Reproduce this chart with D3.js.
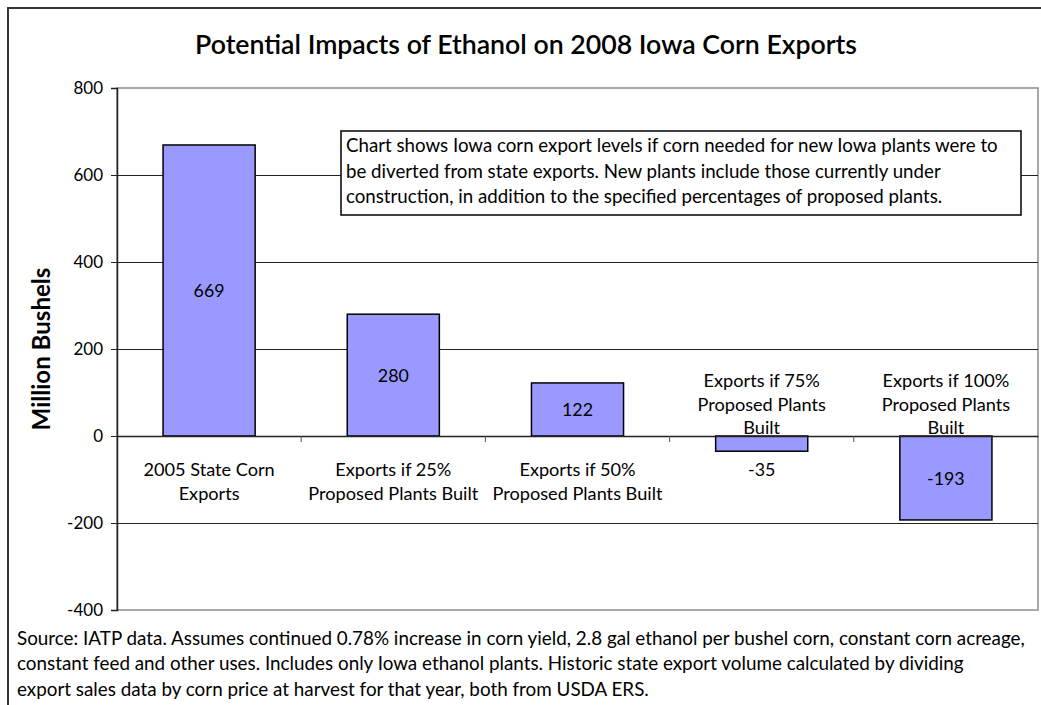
<!DOCTYPE html>
<html>
<head>
<meta charset="utf-8">
<script src="https://cdn.jsdelivr.net/npm/d3@7"></script>
<style>
  html, body { margin: 0; padding: 0; background: #fff; }
  svg { display: block; }
  text { font-family: Lato, "Noto Sans", sans-serif; fill: #000; }
</style>
</head>
<body>
<svg id="chart" width="1041" height="705"></svg>
<script>
// ---- data ----
const categories = [
  "2005 State Corn Exports",
  "Exports if 25% Proposed Plants Built",
  "Exports if 50% Proposed Plants Built",
  "Exports if 75% Proposed Plants Built",
  "Exports if 100% Proposed Plants Built"
];
const categoryLines = [
  ["2005 State Corn", "Exports"],
  ["Exports if 25%", "Proposed Plants Built"],
  ["Exports if 50%", "Proposed Plants Built"],
  ["Exports if 75%", "Proposed Plants", "Built"],
  ["Exports if 100%", "Proposed Plants", "Built"]
];
const values = [669, 280, 122, -35, -193];
const yTicks = [-400, -200, 0, 200, 400, 600, 800];
const titleText = "Potential Impacts of Ethanol on 2008 Iowa Corn Exports";
const yAxisTitle = "Million Bushels";
const noteLines = [
  "Chart shows Iowa corn export levels if corn needed for new Iowa plants were to",
  "be diverted from state exports. New plants include those currently under",
  "construction, in addition to the specified percentages of proposed plants."
];
const sourceLines = [
  "Source: IATP data. Assumes continued 0.78% increase in corn yield, 2.8 gal ethanol per bushel corn, constant corn acreage,",
  "constant feed and other uses. Includes only Iowa ethanol plants. Historic state export volume calculated by dividing",
  "export sales data by corn price at harvest for that year, both from USDA ERS."
];

// ---- layout ----
const svg = d3.select("#chart");
const plot = { left: 117, right: 1038, top: 88, bottom: 610 };

function fitSize(sel, baseSize, target) {
  sel.attr("font-size", baseSize);
  const w = sel.node().getComputedTextLength();
  const s = baseSize * target / w;
  sel.attr("font-size", s);
  return s;
}
function measureSize(str, baseSize, target, weight) {
  const tmp = svg.append("text").attr("font-size", baseSize)
    .attr("font-weight", weight || "normal").text(str);
  const w = tmp.node().getComputedTextLength();
  tmp.remove();
  return baseSize * target / w;
}

// outer frame
svg.append("rect")
  .attr("x", 8).attr("y", 8).attr("width", 1060).attr("height", 720)
  .attr("fill", "none").attr("stroke", "#333").attr("stroke-width", 2);

const x = d3.scaleBand().domain(categories)
  .range([plot.left, plot.right]).paddingInner(0.5).paddingOuter(0.25);
const y = d3.scaleLinear().domain([-400, 800]).range([plot.bottom, plot.top]);

// plot area border (gray)
svg.append("rect")
  .attr("x", plot.left).attr("y", plot.top)
  .attr("width", plot.right - plot.left).attr("height", plot.bottom - plot.top)
  .attr("fill", "none").attr("stroke", "#8c8c8c").attr("stroke-width", 1.5);

// gridlines
svg.append("g").selectAll("line")
  .data(yTicks.filter(t => t !== 800 && t !== -400))
  .join("line")
  .attr("x1", plot.left).attr("x2", plot.right)
  .attr("y1", d => Math.round(y(d)) + 0.5).attr("y2", d => Math.round(y(d)) + 0.5)
  .attr("stroke", "#222").attr("stroke-width", 1);

// y axis
const yAxis = d3.axisLeft(y).tickValues(yTicks).tickSize(6).tickPadding(8).tickFormat(d => String(d));
const gy = svg.append("g").attr("transform", `translate(${plot.left},0)`).call(yAxis);
gy.attr("font-size", null).attr("font-family", null);
gy.select(".domain").attr("stroke", "#222").attr("stroke-width", 1.5);
gy.selectAll(".tick line").attr("stroke", "#222");
gy.selectAll(".tick text")
  .style("font-size", "17px")
  .style("font-family", "Lato, 'Noto Sans', sans-serif")
  .attr("fill", "#000");

// bars
svg.append("g").selectAll("rect")
  .data(values)
  .join("rect")
  .attr("x", (d, i) => x(categories[i]))
  .attr("width", x.bandwidth())
  .attr("y", d => y(Math.max(0, d)))
  .attr("height", d => Math.abs(y(d) - y(0)))
  .attr("fill", "#9999FF")
  .attr("stroke", "#000").attr("stroke-width", 1.5);

// x axis line at zero, with ticks at category boundaries
const xAxis = d3.axisBottom(x).tickSize(0).tickFormat("");
const gx = svg.append("g").attr("transform", `translate(0,${y(0)})`).call(xAxis);
gx.select(".domain").attr("stroke", "#222").attr("stroke-width", 1.5);
const step = x.step();
svg.append("g").selectAll("line")
  .data(categories.slice(1))
  .join("line")
  .attr("x1", d => x(d) - (step - x.bandwidth()) / 2)
  .attr("x2", d => x(d) - (step - x.bandwidth()) / 2)
  .attr("y1", y(0)).attr("y2", y(0) + 6)
  .attr("stroke", "#555").attr("stroke-width", 1);

// data labels
const labSize = measureSize("669", 16, 31);
svg.append("g").selectAll("text")
  .data(values)
  .join("text")
  .attr("x", (d, i) => x(categories[i]) + x.bandwidth() / 2)
  .attr("y", d => {
    const h = Math.abs(y(d) - y(0));
    if (h < 25) return y(d) + 18;
    return (y(d) + y(0)) / 2;
  })
  .attr("text-anchor", "middle")
  .attr("dominant-baseline", "central")
  .attr("font-size", labSize)
  .text(d => d);

// category labels
const catSize = measureSize("Proposed Plants Built", 16, 170);
const catG = svg.append("g");
categoryLines.forEach((lines, i) => {
  const cx = x(categories[i]) + x.bandwidth() / 2;
  const lh = 23.5;
  lines.forEach((ln, j) => {
    let cy;
    if (values[i] >= 0) cy = 469 + j * lh;
    else cy = 427 - (lines.length - 1 - j) * lh;
    catG.append("text")
      .attr("x", cx).attr("y", cy)
      .attr("text-anchor", "middle").attr("dominant-baseline", "central")
      .attr("font-size", catSize)
      .text(ln);
  });
});

// note box
svg.append("rect")
  .attr("x", 341).attr("y", 131).attr("width", 680).attr("height", 84)
  .attr("fill", "#fff").attr("stroke", "#000").attr("stroke-width", 1.5);
const noteG = svg.append("g");
const n0 = noteG.append("text").attr("x", 346).attr("y", 145)
  .attr("dominant-baseline", "central").text(noteLines[0]);
const noteSize = fitSize(n0, 16, 652);
noteLines.slice(1).forEach((ln, j) => {
  noteG.append("text").attr("x", 346).attr("y", 145 + (j + 1) * 25.5)
    .attr("dominant-baseline", "central").attr("font-size", noteSize).text(ln);
});

// title
const t = svg.append("text").attr("x", 526).attr("y", 44)
  .attr("text-anchor", "middle").attr("dominant-baseline", "central")
  .attr("font-weight", 600).text(titleText);
fitSize(t, 21, 662);

// y axis title
const yt = svg.append("text")
  .attr("transform", "translate(40,349) rotate(-90)")
  .attr("text-anchor", "middle").attr("dominant-baseline", "central")
  .attr("font-weight", "bold").text(yAxisTitle);
fitSize(yt, 17, 163);

// source note
const srcG = svg.append("g");
const s0 = srcG.append("text").attr("x", 17).attr("y", 637)
  .attr("dominant-baseline", "central").text(sourceLines[0]);
const srcSize = fitSize(s0, 15.5, 1008);
sourceLines.slice(1).forEach((ln, j) => {
  srcG.append("text").attr("x", 17).attr("y", 637 + (j + 1) * 25.5)
    .attr("dominant-baseline", "central").attr("font-size", srcSize).text(ln);
});
</script>
</body>
</html>
